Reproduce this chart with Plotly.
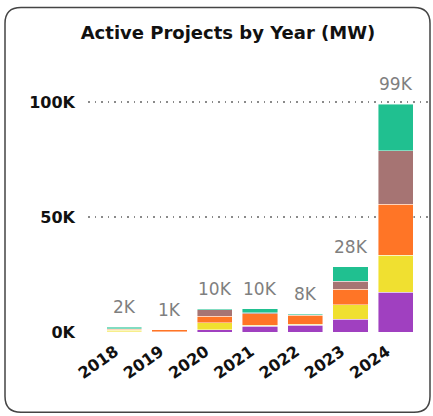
import plotly.graph_objects as go

# data (MW), stacked bottom -> top
years = ["2018", "2019", "2020", "2021", "2022", "2023", "2024"]
purple = [200, 50, 1000, 2500, 2900, 5500, 17300]
yellow = [500, 100, 3000, 400, 400, 6400, 16200]
orange = [600, 800, 2900, 5000, 3900, 6700, 22100]
brown = [200, 50, 2800, 400, 200, 3500, 23300]
green = [500, 0, 400, 1800, 600, 6200, 20100]

series = [
    ("Type 1", purple, "#A040C0"),
    ("Type 2", yellow, "#F0E030"),
    ("Type 3", orange, "#FF7526"),
    ("Type 4", brown, "#A67473"),
    ("Type 5", green, "#20C090"),
]

W, H = 433, 416
L, R, T, B = 88, 1, 92.5, 84.3
FONT = "DejaVu Sans"


def px_x(v):
    return (v - L) / (W - L - R)


def px_y(v):
    return 1 - (v - T) / (H - T - B)


fig = go.Figure()
for name, vals, col in series:
    fig.add_trace(go.Bar(
        x=years, y=vals, name=name,
        marker=dict(color=col, line=dict(color="rgba(255,255,255,0.55)", width=0.8)),
        hoverinfo="skip",
    ))

totals = [sum(v) for v in zip(purple, yellow, orange, brown, green)]
for i, tot in enumerate(totals):
    fig.add_annotation(
        x=i, y=tot, text=f"{round(tot / 1000)}K", showarrow=False,
        yanchor="bottom", yshift=8,
        font=dict(family=FONT, size=17, color="#7F7F7F"),
    )

# card frame
x0, x1, y0, y1, r = 5, 430, 7, 412, 16
path = (
    f"M {px_x(x0 + r)},{px_y(y0)} L {px_x(x1 - r)},{px_y(y0)} "
    f"Q {px_x(x1)},{px_y(y0)} {px_x(x1)},{px_y(y0 + r)} "
    f"L {px_x(x1)},{px_y(y1 - r)} Q {px_x(x1)},{px_y(y1)} {px_x(x1 - r)},{px_y(y1)} "
    f"L {px_x(x0 + r)},{px_y(y1)} Q {px_x(x0)},{px_y(y1)} {px_x(x0)},{px_y(y1 - r)} "
    f"L {px_x(x0)},{px_y(y0 + r)} Q {px_x(x0)},{px_y(y0)} {px_x(x0 + r)},{px_y(y0)} Z"
)
fig.add_shape(type="path", path=path, xref="paper", yref="paper",
              line=dict(color="#444444", width=1.5), layer="below")

fig.update_layout(
    width=W, height=H,
    barmode="stack", bargap=0.22,
    showlegend=False,
    paper_bgcolor="white", plot_bgcolor="white",
    margin=dict(l=L, r=R, t=T, b=B, autoexpand=False),
    font=dict(family=FONT, color="#000000"),
    title=dict(
        text="<b>Active Projects by Year (MW)</b>",
        x=228 / W, xanchor="center", y=1 - 33 / H, yanchor="middle",
        font=dict(family=FONT, size=18, color="#111111"),
    ),
)
fig.update_xaxes(
    type="category", range=[-0.8, 6.8], tickangle=-35,
    ticksuffix="\u00a0\u00a0",
    showgrid=False, showline=False, zeroline=False, ticks="",
    tickfont=dict(family=FONT, size=16, color="#111111", weight="bold"),
)
fig.update_yaxes(
    range=[0, 104000], tickvals=[0, 50000, 100000], ticktext=["0K", "50K", "100K"],
    showgrid=True, gridcolor="#8A8A8A", griddash="1.5px,5px", gridwidth=1.5,
    zeroline=False, showline=False, ticks="", ticklabelstandoff=12,
    tickfont=dict(family=FONT, size=16, color="#111111", weight="bold"),
)

fig.write_html("out.html", config={"displayModeBar": False},
               post_script="document.body.style.margin='0';")
